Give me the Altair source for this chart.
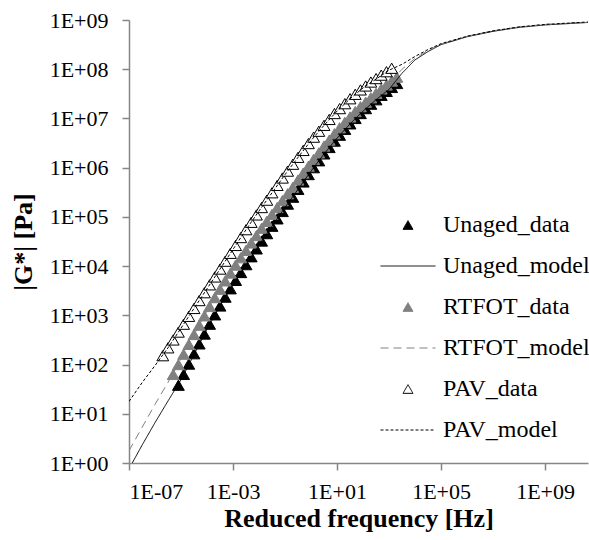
import altair as alt
import pandas as pd

# ---- data (log10 values) ----
unaged_logf = [-5.1, -4.9, -4.7, -4.5, -4.3, -4.1, -3.9, -3.7, -3.5, -3.3, -3.1, -2.9, -2.7, -2.5, -2.3,
               -2.1, -1.9, -1.7, -1.5, -1.3, -1.1, -0.9, -0.7, -0.5, -0.3, -0.1, 0.1, 0.3, 0.5, 0.7,
               0.9, 1.1, 1.3, 1.5, 1.7, 1.9, 2.1, 2.3, 2.5, 2.7, 2.9, 3.1, 3.3]
unaged_logG = [1.58, 1.80, 2.01, 2.22, 2.42, 2.62, 2.82, 3.01, 3.19, 3.37, 3.54, 3.71, 3.87, 4.03, 4.19,
               4.35, 4.51, 4.66, 4.81, 4.96, 5.11, 5.26, 5.40, 5.56, 5.71, 5.86, 6.00, 6.14, 6.28, 6.41,
               6.54, 6.66, 6.78, 6.89, 7.00, 7.10, 7.20, 7.29, 7.38, 7.47, 7.55, 7.63, 7.71]

rtfot_logf = [-5.3, -5.1, -4.9, -4.7, -4.5, -4.3, -4.1, -3.9, -3.7, -3.5, -3.3, -3.1, -2.9, -2.7, -2.5,
              -2.3, -2.1, -1.9, -1.7, -1.5, -1.3, -1.1, -0.9, -0.7, -0.5, -0.3, -0.1, 0.1, 0.3, 0.5,
              0.7, 0.9, 1.1, 1.3, 1.5, 1.7, 1.9, 2.1, 2.3, 2.5, 2.7, 2.9, 3.1, 3.3]
rtfot_logG = [1.80, 2.00, 2.21, 2.41, 2.61, 2.80, 2.99, 3.18, 3.36, 3.53, 3.70, 3.86, 4.02, 4.17, 4.32,
              4.47, 4.62, 4.77, 4.91, 5.05, 5.19, 5.33, 5.47, 5.60, 5.75, 5.89, 6.03, 6.17, 6.30, 6.44,
              6.56, 6.69, 6.81, 6.92, 7.03, 7.14, 7.24, 7.33, 7.42, 7.51, 7.60, 7.68, 7.76, 7.84]

pav_logf = [-5.7, -5.5, -5.3, -5.1, -4.9, -4.7, -4.5, -4.3, -4.1, -3.9, -3.7, -3.5, -3.3, -3.1, -2.9,
            -2.7, -2.5, -2.3, -2.1, -1.9, -1.7, -1.5, -1.3, -1.1, -0.9, -0.7, -0.5, -0.3, -0.1, 0.1,
            0.3, 0.5, 0.7, 0.9, 1.1, 1.3, 1.5, 1.7, 1.9, 2.1, 2.3, 2.5, 2.7, 2.9, 3.1]
pav_logG = [2.18, 2.34, 2.50, 2.66, 2.82, 2.98, 3.14, 3.30, 3.46, 3.62, 3.78, 3.94, 4.10, 4.26, 4.42,
            4.58, 4.74, 4.89, 5.04, 5.19, 5.34, 5.49, 5.64, 5.79, 5.93, 6.07, 6.21, 6.35, 6.49, 6.62,
            6.74, 6.86, 6.98, 7.10, 7.20, 7.30, 7.40, 7.49, 7.58, 7.66, 7.74, 7.81, 7.88, 7.95, 8.02]

model_logf = [-7, -6.5, -6, -5.5, -5, -4.5, -4, -3.5, -3, -2.5, -2, -1.5, -1, -0.5, 0, 0.5, 1, 1.5,
              2, 2.5, 3, 3.5, 4, 4.5, 5, 6, 7, 8, 9, 10, 10.65]
unaged_model_logG = [-0.12, 0.36, 0.82, 1.26, 1.69, 2.20, 2.72, 3.19, 3.62, 4.03, 4.43, 4.81, 5.19, 5.56,
                     5.93, 6.28, 6.60, 6.89, 7.15, 7.38, 7.59, 7.92, 8.19, 8.36, 8.50, 8.66, 8.77, 8.85,
                     8.90, 8.93, 8.95]
rtfot_model_logG = [0.25, 0.72, 1.19, 1.64, 2.10, 2.61, 3.09, 3.53, 3.94, 4.32, 4.70, 5.05, 5.40, 5.75,
                    6.10, 6.44, 6.75, 7.03, 7.29, 7.51, 7.72, 8.00, 8.22, 8.38, 8.51, 8.67, 8.78, 8.86,
                    8.91, 8.94, 8.95]
pav_model_logG = [1.25, 1.63, 1.98, 2.34, 2.74, 3.14, 3.54, 3.94, 4.34, 4.74, 5.12, 5.49, 5.86, 6.21,
                  6.55, 6.86, 7.15, 7.40, 7.62, 7.80, 7.98, 8.10, 8.26, 8.40, 8.52, 8.67, 8.78, 8.86,
                  8.91, 8.94, 8.96]

series_names = ["Unaged_data", "Unaged_model", "RTFOT_data", "RTFOT_model", "PAV_data", "PAV_model"]
x_ticks = [1e-7, 1e-3, 1e1, 1e5, 1e9]
y_ticks = [1e0, 1e1, 1e2, 1e3, 1e4, 1e5, 1e6, 1e7, 1e8, 1e9]


def frame(name, lf, lg):
    return pd.DataFrame({"series": name, "freq": [10 ** v for v in lf], "G": [10 ** v for v in lg]})


pts = pd.concat([
    frame("Unaged_data", unaged_logf, unaged_logG),
    frame("RTFOT_data", rtfot_logf, rtfot_logG),
    frame("PAV_data", pav_logf, pav_logG),
], ignore_index=True)
pts["o"] = range(len(pts))

mdl = pd.concat([
    frame("Unaged_model", model_logf, unaged_model_logG),
    frame("RTFOT_model", model_logf, rtfot_model_logG),
    frame("PAV_model", model_logf, pav_model_logG),
], ignore_index=True)

FONT = "Liberation Serif"
GRAY = "#808080"
AX = "#868686"

label_expr = ("'1E' + (round(log(datum.value)/LN10) < 0 ? '-' : '+') + "
              "(abs(round(log(datum.value)/LN10)) < 10 ? '0' : '') + abs(round(log(datum.value)/LN10))")

xscale = alt.Scale(type="log", domain=[1e-7, 10 ** 10.65], nice=False)
yscale = alt.Scale(type="log", domain=[1, 1e9], nice=False)

xaxis = alt.Axis(values=x_ticks, labelExpr=label_expr, title="Reduced frequency [Hz]",
                 tickSize=7, labelPadding=11, titlePadding=3, grid=False)
yaxis = alt.Axis(values=y_ticks, labelExpr=label_expr, title="|G*| [Pa]",
                 tickSize=7, labelPadding=14, titlePadding=13, grid=False)

# stroke colours (points' outlines and model lines)
cscale = alt.Scale(domain=series_names, range=["black", "black", GRAY, GRAY, "black", "black"])
# fill colours of the data triangles
fscale = alt.Scale(domain=["Unaged_data", "RTFOT_data", "PAV_data"], range=["black", GRAY, "white"])
dscale = alt.Scale(domain=["Unaged_model", "RTFOT_model", "PAV_model"], range=[[1, 0], [8, 5], [3, 2]])

legend = alt.Legend(
    title=None, orient="none", legendX=267, legendY=193, padding=0,
    labelFont=FONT, labelFontSize=24, labelColor="black", labelLimit=400,
    symbolSize=100, rowPadding=17, labelOffset=23, symbolOffset=0,
    symbolStrokeWidth=1, symbolOpacity=1,
    symbolType={"expr": "indexof(datum.value, '_model') > 0 ? 'M-5.5,0H5.5' : 'triangle-up'"},
    symbolFillColor={"expr": "datum.value == 'Unaged_data' ? 'black' : datum.value == 'RTFOT_data' ? '#808080' : datum.value == 'PAV_data' ? 'white' : 'transparent'"},
    symbolDash={"expr": "datum.value == 'RTFOT_model' ? [8,5] : datum.value == 'PAV_model' ? [3,2] : [1,0]"},
)

x = alt.X("freq:Q", scale=xscale, axis=xaxis)
y = alt.Y("G:Q", scale=yscale, axis=yaxis)

points = alt.Chart(pts).mark_point(shape="triangle-up", size=140, filled=False, strokeWidth=1,
                                   opacity=1, clip=True).encode(
    x=x, y=y,
    color=alt.Color("series:N", scale=cscale, legend=legend),
    fill=alt.Fill("series:N", scale=fscale, legend=None),
    order=alt.Order("o:Q"),
)

lines = alt.Chart(mdl).mark_line(strokeWidth=1, clip=True).encode(
    x=x, y=y,
    color=alt.Color("series:N", scale=cscale, legend=legend),
    strokeDash=alt.StrokeDash("series:N", scale=dscale, legend=None),
)

chart = alt.layer(points, lines).properties(
    width=459, height=443,
    autosize=alt.AutoSizeParams(type="none"),
    padding={"left": 129, "top": 20, "right": 1, "bottom": 77},
    background="white",
).configure_view(stroke=None).configure_axis(
    labelFont=FONT, labelFontSize=22, labelColor="black",
    titleFont=FONT, titleFontSize=26, titleFontWeight="bold", titleColor="black",
    domainColor=AX, tickColor=AX, domainWidth=1.5, tickWidth=1.5,
)

chart.save("out.html", embed_options={"renderer": "svg", "actions": False})
